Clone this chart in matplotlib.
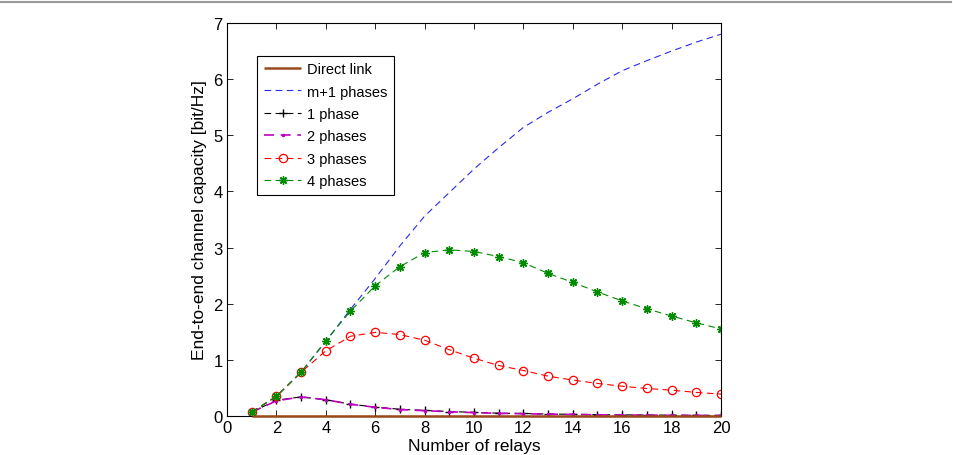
import matplotlib
matplotlib.use("Agg")
import matplotlib.pyplot as plt
from matplotlib.lines import Line2D

relays = list(range(1, 21))

direct_link = [0.004] * 20
m_plus_1 = [0.07, 0.35, 0.78, 1.33, 1.90, 2.45, 3.03, 3.56, 3.98, 4.40,
            4.78, 5.14, 5.41, 5.65, 5.91, 6.15, 6.33, 6.50, 6.66, 6.80]
phase1 = [0.07, 0.28, 0.34, 0.29, 0.21, 0.16, 0.12, 0.10, 0.08, 0.065,
          0.05, 0.045, 0.035, 0.03, 0.025, 0.02, 0.018, 0.015, 0.012, 0.01]
phase2 = [0.07, 0.27, 0.34, 0.29, 0.21, 0.155, 0.115, 0.095, 0.075, 0.06,
          0.048, 0.04, 0.033, 0.027, 0.022, 0.018, 0.015, 0.012, 0.01, 0.008]
phase3 = [0.07, 0.35, 0.78, 1.16, 1.42, 1.49, 1.45, 1.35, 1.18, 1.03,
          0.90, 0.81, 0.71, 0.64, 0.58, 0.53, 0.49, 0.46, 0.42, 0.39]
phase4 = [0.07, 0.35, 0.78, 1.34, 1.87, 2.32, 2.66, 2.91, 2.96, 2.93,
          2.84, 2.73, 2.54, 2.38, 2.21, 2.05, 1.91, 1.78, 1.66, 1.55]

labels = ["Direct link", "m+1 phases", "1 phase", "2 phases", "3 phases", "4 phases"]
x_ticks = list(range(0, 21, 2))
y_ticks = list(range(0, 8))

plt.rcParams['font.family'] = ['Liberation Sans', 'DejaVu Sans']
plt.rcParams['font.size'] = 10

fig = plt.figure(figsize=(9.54, 4.56), dpi=100)
ax = fig.add_axes([227/954, 1 - 417/456, (721-227)/954, (417-24)/456])

dash = (6, 4)
lw = 0.8
ax.plot(relays, m_plus_1, color='#2a2ae6', lw=lw, dashes=dash, label=labels[1])
ax.plot(relays, phase1, color='k', lw=lw, dashes=dash, marker='+', ms=6, mew=1.0, label=labels[2])
ax.plot(relays, phase2, color='m', lw=1.2, dashes=dash, marker='.', ms=3, label=labels[3])
ax.plot(relays, phase3, color='r', lw=lw, dashes=dash, marker='o', ms=6, mfc='none', mew=0.9, label=labels[4])
ax.plot(relays, phase4, color='#008a00', lw=lw, dashes=dash, marker=(8, 2, 0), ms=6, mew=1.0, label=labels[5])
ax.plot(relays, direct_link, color='#9a4a1a', lw=1.8, solid_capstyle='butt', label=labels[0],
        zorder=5, clip_on=False)

ax.set_xlim(0, 20)
ax.set_ylim(0, 7)
ax.set_xticks(x_ticks)
ax.set_yticks(y_ticks)
ax.tick_params(direction='in', top=True, right=True, length=4, width=0.6, labelsize=12, pad=3)
for s in ax.spines.values():
    s.set_linewidth(0.8)
ax.set_xlabel("Number of relays", fontsize=12.5, labelpad=2)
ax.set_ylabel("End-to-end channel capacity [bit/Hz]", fontsize=12.5, labelpad=5)

handles, labs = ax.get_legend_handles_labels()
order = [labs.index(l) for l in labels]
leg = ax.legend([handles[i] for i in order], [labs[i] for i in order],
                loc='upper left', bbox_to_anchor=((257-227)/494, (417-56.5)/393),
                fontsize=10.5, frameon=True, fancybox=False, edgecolor='k',
                handlelength=2.6, handletextpad=0.35, labelspacing=0.58,
                borderpad=0.45, borderaxespad=0, framealpha=1)
leg.get_frame().set_linewidth(0.8)
leg.set_zorder(6)

fig.add_artist(Line2D([0, 0.997], [1 - 3/456, 1 - 3/456], transform=fig.transFigure,
                      color='#999999', lw=1.5))

fig.savefig("out.png", dpi=100)
